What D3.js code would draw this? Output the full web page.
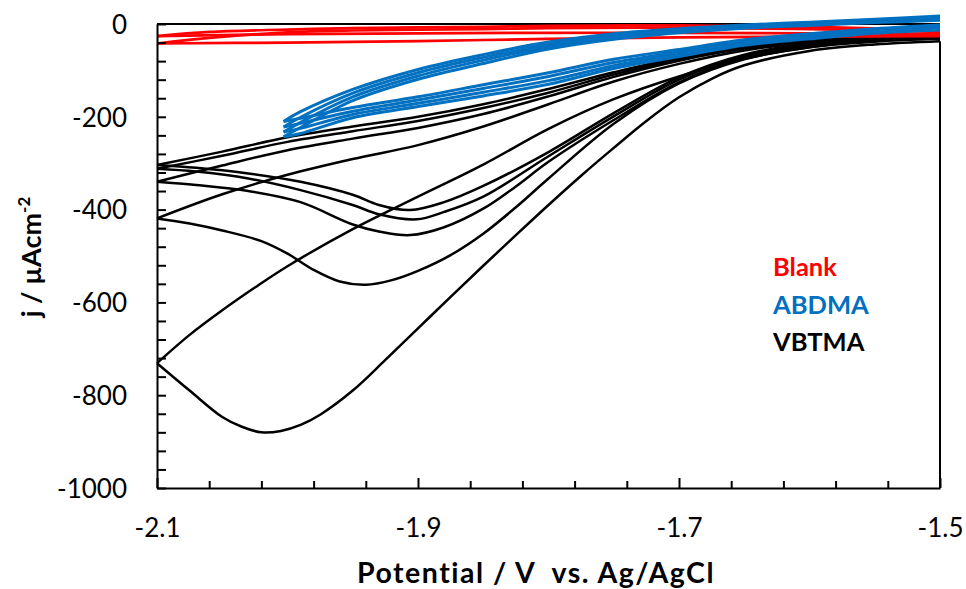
<!DOCTYPE html>
<html>
<head>
<meta charset="utf-8">
<script src="https://cdn.jsdelivr.net/npm/d3@7"></script>
<style>
  body { margin: 0; background: #fff; }
  svg { display: block; }
  text { font-family: Lato, "Open Sans", sans-serif; }
</style>
</head>
<body>
<div id="chart"></div>
<script>
// ---- data: [potential (V), current density (uA/cm2)] ----

// Blank (red): two cycles, each an upper and a lower branch
const blankUp1 = [[-2.1,-26],[-2.06,-17],[-2.0,-12],[-1.95,-9],[-1.85,-6],[-1.8,-4],[-1.7,-3],[-1.6,-6],[-1.5,-14]];
const blankLow1 = [[-2.1,-26],[-2.0,-22],[-1.9,-20],[-1.8,-19],[-1.7,-19],[-1.6,-20],[-1.5,-22]];
const blankUp2 = [[-2.1,-42],[-2.06,-30],[-2.0,-18],[-1.95,-14],[-1.85,-11],[-1.8,-9],[-1.7,-8],[-1.6,-11],[-1.5,-17]];
const blankLow2 = [[-2.1,-42],[-2.0,-40],[-1.9,-37],[-1.8,-32],[-1.7,-29],[-1.6,-27],[-1.5,-26]];

// ABDMA (blue): four cycles turning at about -2.0 V
const abdmaV = [-2.003, -1.99, -1.95, -1.9, -1.85, -1.8, -1.75, -1.7, -1.65, -1.6, -1.55, -1.5];
const abdmaUp1 = [-210, -189, -141, -98, -66, -39, -21, -10, -2, 4, 10, 17];
const abdmaUp2 = [-222, -201, -149, -105, -72, -44, -25, -13, -5, 1, 7, 14];
const abdmaUp3 = [-233, -212, -157, -112, -78, -49, -29, -16, -7, -1, 5, 11];
const abdmaUp4 = [-243, -223, -165, -119, -85, -54, -33, -19, -9, -3, 3, 8];
const abdmaLow1 = [-210, -203, -180, -157, -131, -105, -76, -55, -34, -21, -10, -2];
const abdmaLow2 = [-222, -214, -188, -164, -139, -113, -83, -60, -38, -25, -13, -5];
const abdmaLow3 = [-233, -225, -195, -171, -147, -122, -90, -65, -42, -28, -17, -9];
const abdmaLow4 = [-243, -236, -202, -178, -155, -130, -96, -70, -46, -32, -20, -13];

// VBTMA (black): five cycles, cathodic sweep (-1.5 -> -2.1) and return sweep
const vbtmaFwdA = [[-1.5,-37],[-1.55,-44],[-1.6,-58],[-1.65,-89],[-1.675,-118],[-1.7,-158],[-1.725,-209],[-1.75,-267],[-1.775,-327],[-1.8,-390],[-1.825,-455],[-1.85,-521],[-1.875,-588],[-1.9,-656],[-1.925,-724],[-1.95,-790],[-1.975,-842],[-1.99,-864],[-2.005,-877],[-2.02,-880],[-2.035,-868],[-2.05,-847],[-2.075,-790],[-2.1,-731]];
const vbtmaRevA = [[-2.1,-731],[-2.075,-670],[-2.05,-617],[-2.025,-568],[-2.0,-522],[-1.95,-442],[-1.9,-372],[-1.85,-303],[-1.8,-226],[-1.75,-162],[-1.7,-113],[-1.65,-75],[-1.6,-50],[-1.55,-36],[-1.5,-29]];
const vbtmaFwdB = [[-1.5,-32],[-1.55,-38],[-1.6,-50],[-1.65,-76],[-1.7,-128],[-1.75,-215],[-1.8,-333],[-1.825,-395],[-1.85,-452],[-1.875,-498],[-1.9,-532],[-1.92,-552],[-1.94,-562],[-1.96,-555],[-1.98,-530],[-2.0,-495],[-2.02,-468],[-2.05,-445],[-2.075,-430],[-2.1,-419]];
const vbtmaRevB = [[-2.1,-419],[-2.05,-367],[-2.0,-325],[-1.95,-291],[-1.9,-261],[-1.85,-221],[-1.8,-173],[-1.75,-124],[-1.7,-86],[-1.65,-57],[-1.6,-40],[-1.55,-31],[-1.5,-26]];
const vbtmaFwdC = [[-1.5,-26],[-1.55,-31],[-1.6,-42],[-1.65,-66],[-1.7,-115],[-1.75,-192],[-1.8,-276],[-1.85,-349],[-1.88,-384],[-1.906,-401],[-1.93,-390],[-1.95,-368],[-1.99,-340],[-2.03,-322],[-2.07,-310],[-2.1,-304]];
const vbtmaRevC = [[-2.1,-304],[-2.05,-275],[-2.0,-244],[-1.95,-221],[-1.9,-200],[-1.85,-173],[-1.8,-140],[-1.75,-104],[-1.7,-72],[-1.65,-49],[-1.6,-35],[-1.55,-28],[-1.5,-24]];
const vbtmaFwdD = [[-1.5,-27],[-1.55,-32],[-1.6,-44],[-1.65,-69],[-1.7,-120],[-1.75,-199],[-1.8,-285],[-1.85,-372],[-1.88,-405],[-1.901,-421],[-1.93,-410],[-1.95,-390],[-1.99,-358],[-2.03,-333],[-2.07,-318],[-2.1,-312]];
const vbtmaRevD = [[-2.1,-312],[-2.05,-284],[-2.0,-254],[-1.95,-231],[-1.9,-209],[-1.85,-181],[-1.8,-148],[-1.75,-109],[-1.7,-76],[-1.65,-51],[-1.6,-36],[-1.55,-29],[-1.5,-25]];
const vbtmaFwdE = [[-1.5,-28],[-1.55,-34],[-1.6,-46],[-1.65,-72],[-1.7,-126],[-1.75,-207],[-1.8,-297],[-1.825,-350],[-1.85,-398],[-1.88,-438],[-1.906,-455],[-1.93,-447],[-1.95,-432],[-1.99,-384],[-2.03,-360],[-2.07,-347],[-2.1,-340]];
const vbtmaRevE = [[-2.1,-340],[-2.05,-305],[-2.0,-272],[-1.95,-247],[-1.9,-224],[-1.85,-194],[-1.8,-156],[-1.75,-114],[-1.7,-79],[-1.65,-53],[-1.6,-37],[-1.55,-30],[-1.5,-25]];

// axis ticks and legend
const yLabelTicks = [0, -200, -400, -600, -800, -1000];
const xLabelTicks = [-2.1, -1.9, -1.7, -1.5];
const legendItems = ["Blank", "ABDMA", "VBTMA"];
const seriesColors = ["#ff0000", "#0070c0", "#000000"];

// ---- chart ----
const width = 966, height = 589;

const svg = d3.select("#chart")
  .append("svg")
    .attr("width", width)
    .attr("height", height);

const x = d3.scaleLinear().domain([-2.1, -1.5]).range([157, 940]);
const y = d3.scaleLinear().domain([-1000, 0]).range([488, 24]);

const line = d3.line()
  .x(function(d) { return x(d[0]); })
  .y(function(d) { return y(d[1]); })
  .curve(d3.curveCatmullRom.alpha(0.5));

const zipV = function(vals) { return abdmaV.map(function(v, i) { return [v, vals[i]]; }); };

// plot frame (top line and right line)
svg.append("line")
  .attr("x1", x(-2.1)).attr("x2", x(-1.5))
  .attr("y1", y(0)).attr("y2", y(0))
  .attr("stroke", "#000").attr("stroke-width", 2);
svg.append("line")
  .attr("x1", x(-1.5)).attr("x2", x(-1.5))
  .attr("y1", y(-37)).attr("y2", y(-1000))
  .attr("stroke", "#000").attr("stroke-width", 2);

// series
const groups = [
  { color: seriesColors[2], width: 2.5,
    data: [vbtmaFwdA, vbtmaRevA, vbtmaFwdB, vbtmaRevB, vbtmaFwdC, vbtmaRevC, vbtmaFwdD, vbtmaRevD, vbtmaFwdE, vbtmaRevE] },
  { color: seriesColors[0], width: 2.7,
    data: [blankUp1, blankLow1, blankUp2, blankLow2] },
  { color: seriesColors[1], width: 3,
    data: [abdmaUp1, abdmaLow1, abdmaUp2, abdmaLow2, abdmaUp3, abdmaLow3, abdmaUp4, abdmaLow4].map(zipV) }
];

groups.forEach(function(g) {
  svg.append("g")
    .selectAll("path")
    .data(g.data)
    .enter()
    .append("path")
      .attr("d", line)
      .attr("fill", "none")
      .attr("stroke", g.color)
      .attr("stroke-width", g.width)
      .attr("stroke-linejoin", "round");
});

// Y axis: ticks inside every 40, labels every 200
const yAxis = svg.append("g")
  .attr("transform", "translate(" + x(-2.1) + ",0)")
  .call(d3.axisLeft(y)
    .tickValues(d3.range(-1000, 1, 40))
    .tickSizeInner(-9)
    .tickSizeOuter(0)
    .tickPadding(30)
    .tickFormat(function(d) { return yLabelTicks.indexOf(d) >= 0 ? String(d) : ""; }));

// X axis: ticks inside every 0.04 V, labels every 0.2 V
const xTicks = d3.range(0, 16).map(function(i) { return +(-2.1 + i * 0.04).toFixed(2); });
const xAxis = svg.append("g")
  .attr("transform", "translate(0," + y(-1000) + ")")
  .call(d3.axisBottom(x)
    .tickValues(xTicks)
    .tickSizeInner(-7)
    .tickSizeOuter(0)
    .tickPadding(31)
    .tickFormat(function(d) {
      return xLabelTicks.some(function(t) { return Math.abs(t - d) < 1e-6; }) ? d.toFixed(1) : "";
    }));

xAxis.selectAll(".tick line")
  .filter(function(d) { return xLabelTicks.some(function(t) { return Math.abs(t - d) < 1e-6; }); })
  .attr("y2", -10);

[yAxis, xAxis].forEach(function(a) {
  a.select(".domain").attr("stroke", "#000").attr("stroke-width", 2);
  a.selectAll(".tick line").attr("stroke", "#000").attr("stroke-width", 2);
  a.selectAll(".tick text")
    .attr("fill", "#000")
    .style("font-size", "26px")
    .style("font-family", "Lato, 'Open Sans', sans-serif");
});
yAxis.selectAll(".tick text").attr("dy", "0.36em");

// axis titles
svg.append("text")
  .attr("x", 536)
  .attr("y", 583)
  .attr("text-anchor", "middle")
  .style("font-size", "28.5px")
  .style("font-weight", "bold")
  .style("letter-spacing", "1.5px")
  .style("white-space", "pre")
  .text("Potential / V  vs. Ag/AgCl");

const yTitle = svg.append("text")
  .attr("transform", "translate(41,257) rotate(-90)")
  .attr("text-anchor", "middle")
  .style("font-size", "27px")
  .style("font-weight", "bold");
yTitle.append("tspan").text("j / \u00b5Acm");
yTitle.append("tspan").attr("dy", -11).style("font-size", "17px").text("-2");

// legend
svg.append("g")
  .selectAll("text")
  .data(legendItems)
  .enter()
  .append("text")
    .attr("x", 773)
    .attr("y", function(d, i) { return 276 + i * 37.5; })
    .attr("fill", function(d, i) { return seriesColors[i]; })
    .style("font-size", "25.5px")
    .style("font-weight", "bold")
    .text(function(d) { return d; });
</script>
</body>
</html>
